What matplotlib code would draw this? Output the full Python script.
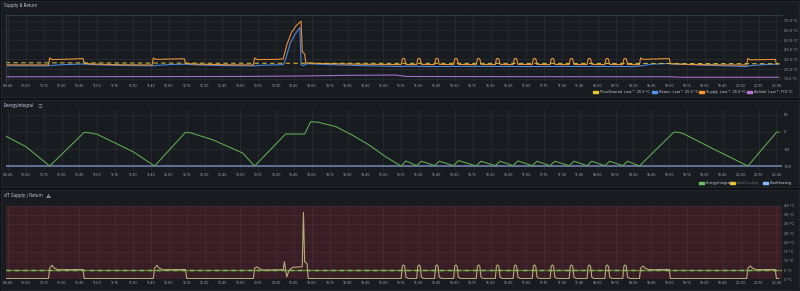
import matplotlib
matplotlib.use("Agg")
import matplotlib.pyplot as plt
import matplotlib.dates as mdates
import pandas as pd
from matplotlib.patches import Rectangle

plt.rcParams["font.family"] = ["Inter", "DejaVu Sans", "Noto Sans CJK JP"]

# ---- data (times HH:MM, values) ----
supply_t = ["09:43", "10:19", "10:20", "10:22", "10:35", "10:48", "10:49", "10:55", "11:20", "11:46",
            "11:47", "11:49", "12:00", "12:13", "12:14", "12:25", "12:50", "13:11", "13:12", "13:14",
            "13:30", "13:36", "13:39", "13:43", "13:47", "13:51", "13:52", "13:54", "13:55", "14:05",
            "14:40", "15:14",
            "15:15", "15:16", "15:17", "15:18", "15:19", "15:28", "15:29", "15:30", "15:31", "15:32",
            "15:43", "15:44", "15:45", "15:46", "15:47", "15:59", "16:00", "16:01", "16:02", "16:03",
            "16:18", "16:19", "16:20", "16:21", "16:22", "16:34", "16:35", "16:36", "16:37", "16:38",
            "16:49", "16:50", "16:51", "16:52", "16:53", "17:05", "17:06", "17:07", "17:08", "17:09",
            "17:20", "17:21", "17:22", "17:23", "17:24", "17:36", "17:37", "17:38", "17:39", "17:40",
            "17:51", "17:52", "17:53", "17:54", "17:55", "18:06", "18:07", "18:08", "18:09", "18:10",
            "18:21", "18:22", "18:23", "18:24", "18:25",
            "18:35", "18:36", "18:38", "18:50", "19:00", "19:01", "19:15", "19:45", "20:05", "20:06",
            "20:08", "20:20", "20:29", "20:30", "20:32"]
supply_v = [24.3, 24.2, 31.5, 29.8, 30.2, 30.8, 26.0, 25.2, 24.4, 24.2,
            31.5, 30.0, 30.3, 30.6, 25.8, 25.0, 24.4, 24.2, 31.5, 29.8,
            30.0, 30.5, 45.0, 58.0, 65.0, 69.5, 38.0, 35.5, 26.5, 25.8,
            25.0, 24.6,
            24.6, 30.5, 31.0, 30.5, 24.8, 24.6, 30.5, 31.0, 30.5, 24.8,
            24.6, 30.5, 31.0, 30.5, 24.8, 24.6, 30.5, 31.0, 30.5, 24.8,
            24.6, 30.5, 31.0, 30.5, 24.8, 24.6, 30.5, 31.0, 30.5, 24.8,
            24.6, 30.5, 31.0, 30.5, 24.8, 24.6, 30.5, 31.0, 30.5, 24.8,
            24.6, 30.5, 31.0, 30.5, 24.8, 24.6, 30.5, 31.0, 30.5, 24.8,
            24.6, 30.5, 31.0, 30.5, 24.8, 24.6, 30.5, 31.0, 30.5, 24.8,
            24.6, 30.5, 31.0, 30.5, 24.8,
            24.6, 31.5, 30.0, 30.5, 30.8, 25.5, 24.8, 24.3, 24.2, 31.0,
            29.5, 29.8, 30.0, 25.6, 25.6]

return_t = ["09:43", "10:19", "10:21", "10:30", "10:48", "10:55", "11:20", "11:47", "11:50", "12:02",
            "12:14", "12:25", "12:50", "13:12", "13:15", "13:36", "13:38", "13:42", "13:46", "13:50",
            "13:51", "13:53", "13:56", "14:10", "14:40", "15:15", "15:20", "15:40", "16:20", "17:00",
            "17:40", "18:30", "18:36", "18:45", "19:00", "19:02", "19:30", "20:05", "20:08", "20:20",
            "20:30", "20:32"]
return_v = [23.4, 23.3, 23.7, 24.5, 25.2, 24.6, 23.7, 23.3, 23.8, 24.7,
            25.0, 24.2, 23.5, 23.3, 23.8, 24.6, 30.0, 47.0, 56.0, 63.0,
            24.5, 23.6, 25.5, 24.8, 23.6, 22.6, 23.0, 22.6, 22.8, 22.6,
            22.7, 22.6, 23.2, 25.0, 25.8, 25.3, 24.0, 22.6, 23.5, 24.6,
            25.0, 25.0]

flow_t = ["09:43", "13:00", "16:00", "18:30", "20:32"]
flow_v = [26.5, 26.0, 25.9, 25.8, 25.5]

air_t = ["09:43", "13:00", "13:50", "14:30", "15:10", "15:20", "17:00", "19:00", "19:10", "20:32"]
air_v = [12.0, 12.3, 12.8, 13.5, 13.8, 12.3, 12.1, 12.0, 11.5, 11.5]

energy_t = ["09:43", "10:00", "10:20", "10:49", "10:53", "11:00", "11:30", "11:48", "12:14", "12:18",
            "12:37", "13:02", "13:12", "13:38", "13:54", "13:59", "14:05", "14:20", "14:34", "14:48",
            "15:02", "15:15", "15:19", "15:28", "15:32", "15:43", "15:47", "15:59", "16:03", "16:18",
            "16:22", "16:34", "16:38", "16:49", "16:53", "17:05", "17:09", "17:20", "17:24", "17:36",
            "17:40", "17:51", "17:55", "18:06", "18:10", "18:21", "18:25", "18:35", "19:04", "19:08",
            "19:12", "19:36", "20:06", "20:30", "20:32"]
energy_v = [-12, -43, -100, -1, -2, -7, -58, -100, -1, -2,
            -23, -62, -100, -6, -6, 30, 29, 16, -9, -38,
            -73, -100, -85, -99, -86, -99, -86, -99, -84, -100,
            -86, -99, -86, -99, -85, -99, -86, -99, -86, -99,
            -86, -99, -86, -99, -86, -99, -86, -100, 0, -1,
            -5, -48, -100, -1, 0]
start_heating = -100

dt_t = ["09:43", "10:19", "10:20", "10:22", "10:24", "10:27", "10:48", "10:49", "11:47", "11:48",
        "11:50", "11:52", "11:55", "12:14", "12:15", "13:11", "13:12", "13:14", "13:16", "13:19",
        "13:36", "13:37", "13:39", "13:41", "13:44", "13:52", "13:53", "13:54", "13:56", "13:57",
        "15:15", "15:16", "15:17", "15:18", "15:19", "15:21",
        "15:28", "15:29", "15:30", "15:31", "15:32", "15:34",
        "15:43", "15:44", "15:45", "15:46", "15:47", "15:49",
        "15:59", "16:00", "16:01", "16:02", "16:03", "16:05",
        "16:18", "16:19", "16:20", "16:21", "16:22", "16:24",
        "16:34", "16:35", "16:36", "16:37", "16:38", "16:40",
        "16:49", "16:50", "16:51", "16:52", "16:53", "16:55",
        "17:05", "17:06", "17:07", "17:08", "17:09", "17:11",
        "17:20", "17:21", "17:22", "17:23", "17:24", "17:26",
        "17:36", "17:37", "17:38", "17:39", "17:40", "17:42",
        "17:51", "17:52", "17:53", "17:54", "17:55", "17:57",
        "18:06", "18:07", "18:08", "18:09", "18:10", "18:12",
        "18:21", "18:22", "18:23", "18:24", "18:25", "18:27",
        "18:35", "18:36", "18:38", "18:40", "18:43", "19:00", "19:01", "20:05", "20:06", "20:08",
        "20:10", "20:13", "20:29", "20:30", "20:32"]
dt_v = [0.4, 0.4, 6.0, 7.6, 6.0, 5.2, 5.3, 0.4, 0.4, 6.0,
        7.6, 6.0, 5.2, 5.3, 0.4, 0.4, 6.0, 6.8, 5.8, 5.0,
        5.2, 9.5, 1.3, 5.0, 6.5, 6.8, 36.3, 9.5, 8.5, 0.4,
        0.4, 7.2, 7.8, 7.0, 1.2, 0.4,
        0.4, 7.2, 7.8, 7.0, 1.2, 0.4,
        0.4, 7.2, 7.8, 7.0, 1.2, 0.4,
        0.4, 7.2, 7.8, 7.0, 1.2, 0.4,
        0.4, 7.2, 7.8, 7.0, 1.2, 0.4,
        0.4, 7.2, 7.8, 7.0, 1.2, 0.4,
        0.4, 7.2, 7.8, 7.0, 1.2, 0.4,
        0.4, 7.2, 7.8, 7.0, 1.2, 0.4,
        0.4, 7.2, 7.8, 7.0, 1.2, 0.4,
        0.4, 7.2, 7.8, 7.0, 1.2, 0.4,
        0.4, 7.2, 7.8, 7.0, 1.2, 0.4,
        0.4, 7.2, 7.8, 7.0, 1.2, 0.4,
        0.4, 7.2, 7.8, 7.0, 1.2, 0.4,
        0.4, 6.0, 7.2, 6.0, 5.2, 5.3, 0.4, 0.4, 6.0, 7.2,
        6.0, 5.2, 5.3, 0.4, 0.4]
dt_threshold = 5

legend1 = ["FlowDesired  Last *: 25.5 °C", "Return  Last *: 25.0 °C",
           "Supply  Last *: 25.6 °C", "AirInlet  Last *: 11.5 °C"]
legend2 = ["EnergyIntegral", "StartCooling", "StartHeating"]

# ---- style ----
W, H = 800, 291
PAGE = "#111217"
PANEL = "#181b1f"
BORDER = "#25282d"
TXT = "#ccccdc"
TICK = "#a3a6b0"
GRID = "#2a2d32"
DAY = "2024-01-01 "
FS_TICK = 2.7
FS_TITLE = 3.1


def ts(lst):
    return pd.to_datetime([DAY + t for t in lst])


def box(x0, y0, x1, y1):
    return [x0 / W, 1 - y1 / H, (x1 - x0) / W, (y1 - y0) / H]


fig = plt.figure(figsize=(W / 100, H / 100), dpi=100, facecolor=PAGE)

# panel backgrounds
for y0, y1 in [(1, 97), (100, 187), (190, 290)]:
    fig.patches.append(Rectangle((1 / W, 1 - y1 / H), 798 / W, (y1 - y0) / H,
                                 transform=fig.transFigure, facecolor=PANEL,
                                 edgecolor=BORDER, linewidth=0.6, zorder=-5))

x0 = pd.Timestamp(DAY + "09:43:20")
x1 = pd.Timestamp(DAY + "20:34:40")


def setup(ax, yticks, fmt):
    ax.set_xlim(x0, x1)
    ax.xaxis.set_major_locator(mdates.MinuteLocator(byminute=[0, 15, 30, 45]))
    ax.xaxis.set_major_formatter(mdates.DateFormatter("%H:%M"))
    ax.yaxis.tick_right()
    ax.set_yticks(yticks)
    ax.set_yticklabels([fmt(v) for v in yticks])
    ax.tick_params(length=0, labelsize=FS_TICK, colors=TICK, pad=1.5)
    ax.grid(True, color=GRID, linewidth=0.5)
    ax.set_axisbelow(True)
    for s in ax.spines.values():
        s.set_visible(False)


# ---- panel 1: Supply & Return ----
ax1 = fig.add_axes(box(6, 15, 782, 82))
ax1.patch.set_alpha(0)
setup(ax1, [10, 20, 30, 40, 50, 60, 70], lambda v: f"{v:.1f} °C")
ax1.set_ylim(6.6, 75.9)
for side in ["top", "left"]:
    ax1.spines[side].set_visible(True)
    ax1.spines[side].set_linestyle((0, (1, 1.5)))
    ax1.spines[side].set_color("#3f4d52")
    ax1.spines[side].set_linewidth(0.6)
ax1.plot(ts(air_t), air_v, color="#a56ccc", lw=0.8)
ax1.plot(ts(return_t), return_v, color="#4d86d9", lw=0.8)
ax1.plot(ts(supply_t), supply_v, color="#e8913a", lw=0.8)
ax1.plot(ts(flow_t), flow_v, color="#c9b53a", lw=0.8, ls=(0, (4, 3)))

# ---- panel 2: EnergyIntegral ----
ax2 = fig.add_axes(box(6, 110, 782, 171))
ax2.patch.set_alpha(0)
setup(ax2, [-100, -50, 0, 50], lambda v: str(int(v)))
ax2.set_ylim(-114.7, 64.7)
ax2.axhline(start_heating, color="#6678a0", lw=1.3)
ax2.plot(ts(energy_t), energy_v, color="#5fa656", lw=0.8)

# ---- panel 3: dT Supply / Return ----
ax3 = fig.add_axes(box(6, 205.5, 782, 279.3))
setup(ax3, list(range(0, 41, 5)), lambda v: f"{v} °C")
ax3.set_facecolor("#391e26")
ax3.grid(True, color="#4a2c34", linewidth=0.5)
ax3.set_ylim(0, 40)
ax3.axhline(dt_threshold, color="#6d7a2c", lw=1.0)
ax3.axhline(dt_threshold, color="#73bf69", lw=1.0, ls=(0, (3, 3)))
ax3.plot(ts(dt_t), dt_v, color="#b3ab78", lw=0.8)

# ---- titles ----
fig.text(4 / W, 1 - 6 / H, "Supply & Return", fontsize=FS_TITLE, color=TXT, va="center")
fig.text(4 / W, 1 - 106 / H, "EnergyIntegral", fontsize=FS_TITLE, color=TXT, va="center")
fig.text(38 / W, 1 - 106 / H, "ⓘ", fontsize=3.6, color="#8e8f99", va="center")
fig.text(4 / W, 1 - 196 / H, "dT Supply / Return", fontsize=FS_TITLE, color=TXT, va="center")
fig.text(46 / W, 1 - 196 / H, "⚠", fontsize=3.6, color="#8e8f99", va="center")


# ---- legends ----
def legend_item(x, y, color, label, tcolor=TXT):
    fig.patches.append(Rectangle((x / W, 1 - (y + 1) / H), 5 / W, 2 / H,
                                 transform=fig.transFigure, color=color))
    fig.text((x + 7) / W, 1 - y / H, label, fontsize=FS_TICK, color=tcolor, va="center")


for x, c, lab in zip([593, 652, 699, 747], ["#e6c52d", "#5794f2", "#ff9830", "#b877d9"], legend1):
    legend_item(x, 92, c, lab)
for x, c, lab, tc in zip([699, 730, 763], ["#73bf69", "#e6c52d", "#8ab8ff"], legend2,
                         [TXT, "#6e6f78", TXT]):
    legend_item(x, 183, c, lab, tc)

fig.savefig("out.png", dpi=100, facecolor=PAGE)
